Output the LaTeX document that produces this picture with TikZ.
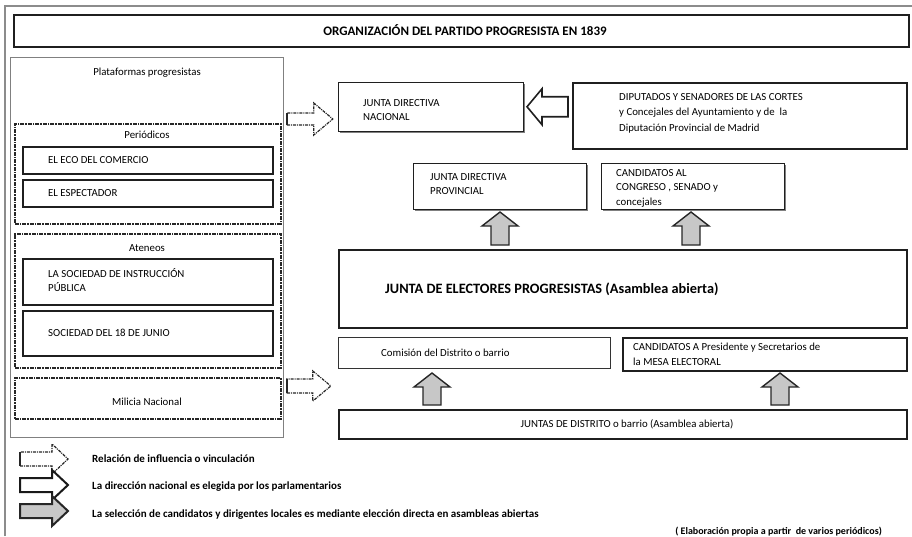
\documentclass[tikz,border=0pt]{standalone}
\usepackage{fontspec}
\setmainfont{Carlito}
\usetikzlibrary{calc,shadows}
\newcommand\mybox[6]{\node[#6, anchor=north west, inner sep=0pt, minimum width=#4pt-#2pt, minimum height=#5pt-#3pt] (#1) at (#2,-#3) {};}
\tikzset{
  frame/.style={draw=black!45, line width=1.2pt},
  thickbox/.style={draw=black!88, line width=1.5pt, fill=white, drop shadow={shadow xshift=1.3pt, shadow yshift=-1.3pt, fill=black!55, opacity=1}},
  medbox/.style={draw=black!88, line width=1.0pt, fill=white, drop shadow={shadow xshift=1pt, shadow yshift=-1pt, fill=black!50, opacity=1}},
  thinbox/.style={draw=black!80, line width=0.7pt, fill=white},
  panelbox/.style={draw=black!50, line width=0.8pt},
  dbox/.style={draw=black!85, line width=1.8pt, dash pattern=on 4pt off 1pt on 1.5pt off 1pt},
  txt/.style={inner sep=0pt, align=left, font=\fontsize{10.8}{14.5}\selectfont},
  ctxt/.style={inner sep=0pt, align=center, font=\fontsize{10.8}{14.5}\selectfont},
  legtxt/.style={inner sep=0pt, anchor=west, font=\bfseries\fontsize{11}{12}\selectfont},
  garrow/.style={draw=black!85, fill=black!22, line width=1.4pt},
  warrow/.style={draw=black!88, fill=white, line width=1.6pt},
  darr/.style={draw=black!85, line width=1.2pt, dash pattern=on 3pt off 1pt on 1pt off 1pt, fill=white},
  pics/barrow/.style n args={4}{code={
    \path[pic actions] (0,-#2) -- ({#1-#4},-#2) -- ({#1-#4},-#3) -- (#1,0) -- ({#1-#4},#3) -- ({#1-#4},#2) -- (0,#2) -- cycle;
  }},
  pics/dbarrow/.style n args={4}{code={
    \path[pic actions] (0,-#2) -- ({#1-#4},-#2) -- ({#1-#4},-#3) -- (#1,0) -- ({#1-#4},#3) -- ({#1-#4},#2) -- (0,#2) -- cycle;
    \draw[solid, line width=2.6pt, black!85] (0,-#2) -- (0,#2);
  }},
}
\begin{document}
\begin{tikzpicture}[x=1pt,y=1pt]
\useasboundingbox (0,0) rectangle (912,-536);
% outer frame
\draw[frame] (5,-536) -- (5,-6) -- (912,-6);
% title
\mybox{title}{13}{14}{908}{46}{thickbox}
\node[inner sep=0pt, font=\bfseries\fontsize{13}{15}\selectfont] (titletxt) at (465,-30) {ORGANIZACIÓN DEL PARTIDO PROGRESISTA EN 1839};
% left panel
\mybox{panel}{10}{57}{283}{437}{panelbox}
\node[ctxt] (plat) at (147,-73) {Plataformas progresistas};
\mybox{period}{14}{123}{280}{223}{dbox}
\node[ctxt] (periodt) at (147,-135) {Periódicos};
\mybox{eco}{22}{146}{272}{173}{thickbox}
\node[txt, anchor=west] (ecot) at (48,-160) {EL ECO DEL COMERCIO};
\mybox{espect}{22}{179}{272}{206}{thickbox}
\node[txt, anchor=west] (espectt) at (48,-193) {EL ESPECTADOR};
\mybox{aten}{14}{233}{280}{367}{dbox}
\node[ctxt] (atent) at (147,-248) {Ateneos};
\mybox{socied}{22}{258}{272}{304}{thickbox}
\node[txt, anchor=west] (sociedt) at (48,-280) {LA SOCIEDAD DE INSTRUCCIÓN\\PÚBLICA};
\mybox{junio}{22}{310}{272}{355}{thickbox}
\node[txt, anchor=west] (juniot) at (48,-333) {SOCIEDAD DEL 18 DE JUNIO};
\mybox{milicia}{14}{377}{280}{418}{dbox}
\node[ctxt] (miliciat) at (147,-402) {Milicia Nacional};
% right side
\mybox{nacional}{338}{82}{523}{131}{medbox}
\node[txt, anchor=west] (nacionalt) at (363,-110) {JUNTA DIRECTIVA\\NACIONAL};
\mybox{diput}{572}{82}{906}{148}{thickbox}
\node[txt, anchor=west, font=\fontsize{10.8}{15.5}\selectfont] (diputt) at (619,-113) {DIPUTADOS Y SENADORES DE LAS CORTES\\y Concejales del Ayuntamiento y de\ \ la\\Diputación Provincial de Madrid};
\mybox{prov}{413}{163}{586}{209}{medbox}
\node[txt, anchor=west] (provt) at (430,-184) {JUNTA DIRECTIVA\\PROVINCIAL};
\mybox{congreso}{601}{163}{784}{209}{medbox}
\node[txt, anchor=west] (congresot) at (616,-188) {CANDIDATOS AL\\CONGRESO , SENADO y\\concejales};
\mybox{electores}{338}{249}{906}{327}{thickbox}
\node[inner sep=0pt, anchor=west, font=\bfseries\fontsize{14.3}{16}\selectfont] (electorest) at (385,-289) {JUNTA DE ELECTORES PROGRESISTAS (Asamblea abierta)};
\mybox{comision}{338}{337}{610}{368}{thinbox}
\node[txt, anchor=west] (comisiont) at (381,-353) {Comisión del Distrito o barrio};
\mybox{mesa}{622}{337}{906}{370}{thickbox}
\node[txt, anchor=west] (mesat) at (633,-354.5) {CANDIDATOS A Presidente y Secretarios de\\la MESA ELECTORAL};
\mybox{distrito}{338}{409}{906}{438}{thickbox}
\node[ctxt] (distritot) at (627,-424) {JUNTAS DE DISTRITO o barrio (Asamblea abierta)};
% block arrows
\pic[warrow, rotate=180] at ($(diput.west)+(-4,9)$) {barrow={41}{10}{18}{15}};
\pic[garrow, rotate=90] at ($(prov.south |- electores.north)+(0,4)$) {barrow={33}{9}{18}{14}};
\pic[garrow, rotate=90] at ($(congreso.south |- electores.north)+(-2,4)$) {barrow={33}{9}{18}{14}};
\pic[garrow, rotate=90] at ($(distrito.north -| 432,0)+(0,4)$) {barrow={32}{9}{18}{14}};
\pic[garrow, rotate=90] at ($(distrito.north -| 780,0)+(0,4)$) {barrow={32}{9}{18}{14}};
\pic[darr] at ($(panel.east |- 0,-119)+(3,0)$) {dbarrow={46}{6}{16}{19}};
\pic[darr] at ($(panel.east |- 0,-386)+(3,0)$) {dbarrow={44}{7}{15}{18}};
% legend
\pic[darr] at (20,-459) {dbarrow={48}{7}{15}{16}};
\node[legtxt] (leg1) at (92,-459) {Relación de influencia o vinculación};
\pic[draw=black!90, fill=white, line width=2pt] at (20,-485) {barrow={48}{7}{15}{16}};
\node[legtxt] (leg2) at (92,-487) {La dirección nacional es elegida por los parlamentarios};
\pic[garrow, line width=2pt] at (20,-511) {barrow={48}{7}{15}{16}};
\node[legtxt] (leg3) at (92,-515) {La selección de candidatos y dirigentes locales es mediante elección directa en asambleas abiertas};
\node[inner sep=0pt, anchor=east, font=\bfseries\fontsize{10}{11}\selectfont] (foot) at (882,-532) {( Elaboración propia a partir\ \ de varios periódicos)};
\end{tikzpicture}
\end{document}
